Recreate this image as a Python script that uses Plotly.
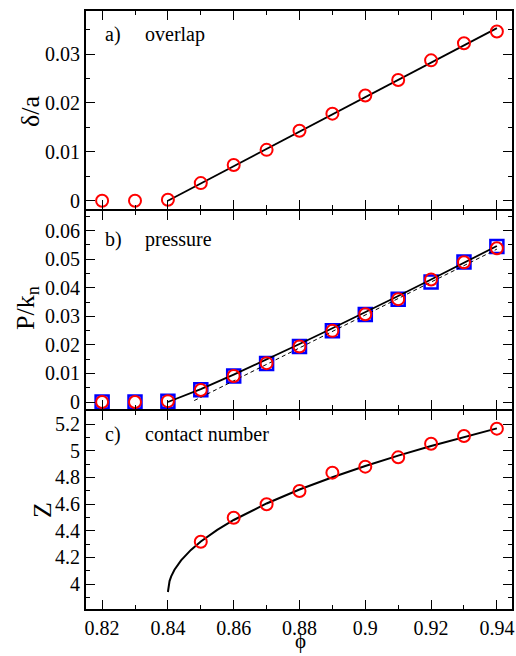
import plotly.graph_objects as go
from plotly.subplots import make_subplots

# ---- data ----
phi = [0.82, 0.83, 0.84, 0.85, 0.86, 0.87, 0.88, 0.89, 0.90, 0.91, 0.92, 0.93, 0.94]
overlap = [0.0, 0.0, 0.0002, 0.0036, 0.0073, 0.0104, 0.0143, 0.0178, 0.0215, 0.0247, 0.0287, 0.0322, 0.0346]
overlap_fit_phi = [0.84, 0.94]
overlap_fit = [0.0, 0.0353]

pressure_circ = [0.0, 0.0, 0.0003, 0.0042, 0.0091, 0.0136, 0.0194, 0.0249, 0.0307, 0.0360, 0.0429, 0.0489, 0.0538]
pressure_sq = [0.0, 0.0, 0.0003, 0.0043, 0.0091, 0.0135, 0.0194, 0.0249, 0.0306, 0.0360, 0.0420, 0.0490, 0.0544]
pressure_fit_phi = [0.84, 0.85, 0.86, 0.87, 0.88, 0.89, 0.90, 0.91, 0.92, 0.93, 0.94]
pressure_fit = [0.0, 0.0045, 0.0096, 0.0149, 0.0203, 0.0258, 0.0314, 0.0371, 0.0429, 0.0487, 0.0546]
pressure_lin_phi = [0.848, 0.94]
pressure_lin = [0.0005, 0.0535]

z_phi = [0.85, 0.86, 0.87, 0.88, 0.89, 0.90, 0.91, 0.92, 0.93, 0.94]
z_vals = [4.317, 4.497, 4.598, 4.698, 4.835, 4.88, 4.95, 5.052, 5.11, 5.165]
z_fit_phi = [0.84, 0.8405, 0.841, 0.842, 0.844, 0.847, 0.85, 0.855, 0.86, 0.87,
             0.88, 0.89, 0.90, 0.91, 0.92, 0.93, 0.94]
z_fit = [3.94, 4.022, 4.057, 4.107, 4.177, 4.256, 4.319, 4.406, 4.48, 4.604,
         4.709, 4.801, 4.885, 4.963, 5.035, 5.103, 5.167]

FONT = "Liberation Serif"

fig = make_subplots(rows=3, cols=1, shared_xaxes=True, vertical_spacing=0)

circle = dict(symbol="circle-open", size=12, color="#ff0000", line=dict(width=2, color="#ff0000"))
square = dict(symbol="square-open", size=13, color="#0000ff", line=dict(width=2.5, color="#0000ff"))

# panel a
fig.add_trace(go.Scatter(x=overlap_fit_phi, y=overlap_fit, mode="lines",
                         line=dict(color="black", width=1.8)), row=1, col=1)
fig.add_trace(go.Scatter(x=phi, y=overlap, mode="markers", marker=circle), row=1, col=1)

# panel b
fig.add_trace(go.Scatter(x=phi, y=pressure_sq, mode="markers", marker=square), row=2, col=1)
fig.add_trace(go.Scatter(x=pressure_fit_phi, y=pressure_fit, mode="lines",
                         line=dict(color="black", width=1.8)), row=2, col=1)
fig.add_trace(go.Scatter(x=pressure_lin_phi, y=pressure_lin, mode="lines",
                         line=dict(color="black", width=1, dash="4px,3px")), row=2, col=1)
fig.add_trace(go.Scatter(x=phi, y=pressure_circ, mode="markers", marker=circle), row=2, col=1)

# panel c
fig.add_trace(go.Scatter(x=z_fit_phi, y=z_fit, mode="lines",
                         line=dict(color="black", width=2)), row=3, col=1)
fig.add_trace(go.Scatter(x=z_phi, y=z_vals, mode="markers", marker=circle), row=3, col=1)

axis_common = dict(showline=True, linecolor="black", linewidth=1, mirror="allticks",
                   ticks="inside", ticklen=10, tickwidth=1.2, tickcolor="black",
                   showgrid=False, zeroline=False,
                   tickfont=dict(family=FONT, size=20, color="black"))
minor_common = dict(ticklen=5, ticks="inside", tickcolor="black", tickwidth=1.2)

for r in (1, 2, 3):
    fig.update_xaxes(range=[0.8148, 0.9449], dtick=0.02, tick0=0.82,
                     minor=dict(dtick=0.01, **minor_common),
                     row=r, col=1, **axis_common)

fig.update_yaxes(range=[-0.0019, 0.039], dtick=0.01, tick0=0,
                 minor=dict(dtick=0.005, **minor_common), row=1, col=1, **axis_common)
fig.update_yaxes(range=[-0.0028, 0.0672], dtick=0.01, tick0=0,
                 minor=dict(dtick=0.005, **minor_common), row=2, col=1, **axis_common)
fig.update_yaxes(range=[3.805, 5.305], dtick=0.2, tick0=4,
                 minor=dict(dtick=0.1, **minor_common), row=3, col=1, **axis_common)

fig.update_layout(
    yaxis=dict(domain=[2/3, 1.0]),
    yaxis2=dict(domain=[1/3, 2/3]),
    yaxis3=dict(domain=[0.0, 1/3]),
)

W, H = 516, 656
L, R, T, B = 85, 3, 10, 46
pw, ph = W - L - R, H - T - B

def px_x(x):
    return (x - L) / pw

def px_y(y):
    return 1 - (y - T) / ph

ann = []
lab_font = dict(family=FONT, size=20, color="black")
for txt, sub, yc in [("a)", "overlap", 34), ("b)", "pressure", 240), ("c)", "contact number", 434)]:
    ann.append(dict(text=txt, x=px_x(103), y=px_y(yc), xref="paper", yref="paper",
                    xanchor="left", yanchor="middle", showarrow=False, font=lab_font))
    ann.append(dict(text=sub, x=px_x(143), y=px_y(yc), xref="paper", yref="paper",
                    xanchor="left", yanchor="middle", showarrow=False, font=lab_font))

title_font = dict(family=FONT, size=26, color="black")
ann.append(dict(text="δ/a", x=px_x(30), y=px_y(112), xref="paper", yref="paper", textangle=-90,
                xanchor="center", yanchor="middle", showarrow=False, font=title_font))
ann.append(dict(text="P/k<sub>n</sub>", x=px_x(27), y=px_y(308), xref="paper", yref="paper", textangle=-90,
                xanchor="center", yanchor="middle", showarrow=False, font=title_font))
ann.append(dict(text="Z", x=px_x(42), y=px_y(510), xref="paper", yref="paper", textangle=-90,
                xanchor="center", yanchor="middle", showarrow=False, font=title_font))
ann.append(dict(text="ϕ", x=px_x(300), y=px_y(655), xref="paper", yref="paper",
                xanchor="center", yanchor="bottom", showarrow=False,
                font=dict(family=FONT, size=21, color="black")))

shapes = [dict(type="rect", xref="paper", yref="paper", x0=0, x1=1, y0=0, y1=1,
               line=dict(color="black", width=2), fillcolor="rgba(0,0,0,0)", layer="above")]

fig.update_layout(
    width=W, height=H,
    margin=dict(l=L, r=R, t=T, b=B),
    paper_bgcolor="white", plot_bgcolor="white",
    showlegend=False,
    annotations=ann,
    shapes=shapes,
)

fig.write_html("out.html", config={"displayModeBar": False},
               post_script="document.body.style.margin='0';document.body.style.overflow='hidden';")
